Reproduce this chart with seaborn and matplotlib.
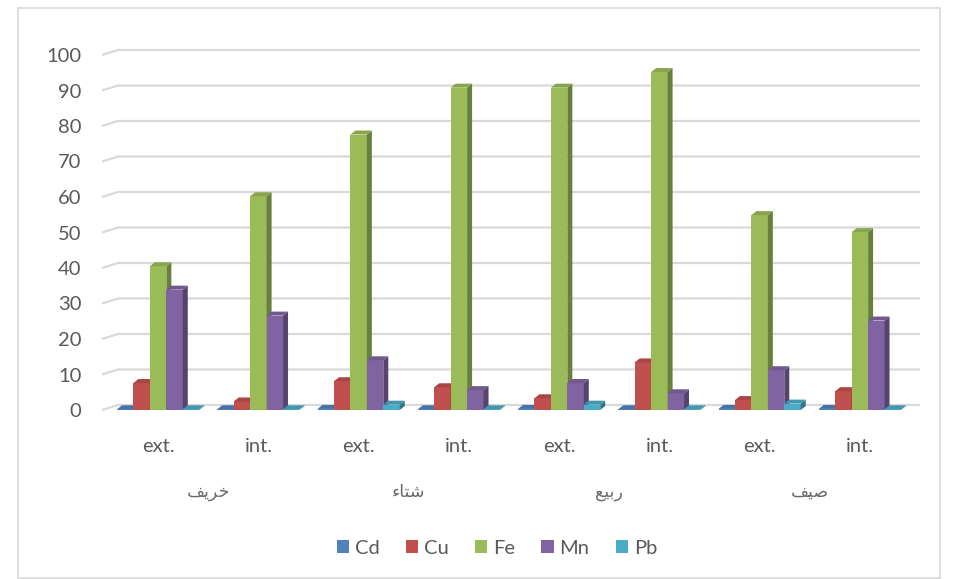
import numpy as np
import pandas as pd
import matplotlib
matplotlib.use("Agg")
import matplotlib.pyplot as plt
from matplotlib.patches import Polygon, Rectangle
from matplotlib.colors import to_rgb
import seaborn as sns

# Seasons (Arabic presentation forms in display order, since matplotlib does no Arabic shaping)
seasons = ["\uFED2\uFEF3\uFEAE\uFEA7",   # خريف
           "\uFE80\uFE8E\uFE98\uFEB7",   # شتاء
           "\uFECA\uFEF4\uFE91\uFEAD",   # ربيع
           "\uFED2\uFEF4\uFEBB"]         # صيف
sites = ["ext.", "int."]
metals = ["Cd", "Cu", "Fe", "Mn", "Pb"]

# Concentrations per sample: autumn ext/int, winter ext/int, spring ext/int, summer ext/int
cd = [0.2, 0.2, 0.3, 0.2, 0.3, 0.2, 0.3, 0.3]
cu = [7.6, 2.4, 8.1, 6.4, 3.3, 13.4, 2.8, 5.3]
fe = [40.5, 60.2, 77.6, 90.8, 90.8, 95.2, 54.9, 50.1]
mn = [33.9, 26.6, 14.0, 5.6, 7.6, 4.7, 11.2, 25.2]
pb = [0.2, 0.2, 1.5, 0.2, 1.5, 0.2, 1.8, 0.2]

palette = ["#4F81BD", "#C0504D", "#9BBB59", "#8064A2", "#4BACC6"]

samples = [f"{s}|{t}" for s in seasons for t in sites]
values = {"Cd": cd, "Cu": cu, "Fe": fe, "Mn": mn, "Pb": pb}
df = pd.DataFrame([
    {"sample": samples[i], "metal": m, "value": values[m][i]}
    for m in metals for i in range(len(samples))
])

sns.set_theme(style="white")
plt.rcParams["font.family"] = ["Lato", "DejaVu Sans"]

fig = plt.figure(figsize=(9.56, 5.79), dpi=100)
ax = fig.add_axes([108 / 956, 169 / 579, 802 / 956, 355 / 579])

sns.barplot(data=df, x="sample", y="value", hue="metal", order=samples,
            hue_order=metals, palette=palette, width=0.82, saturation=1,
            errorbar=None, ax=ax, legend=False)

ax.set_xlim(-0.5, len(samples) - 0.5)
ax.set_ylim(0, 100)
ax.set_yticks(np.arange(0, 101, 10))
ax.set_xlabel("")
ax.set_ylabel("")
for sp in ax.spines.values():
    sp.set_visible(False)
ax.tick_params(axis="both", length=0, labelcolor="#595959", labelsize=14.5)
ax.tick_params(axis="y", pad=19)
ax.tick_params(axis="x", pad=20)
ax.set_xticks(range(len(samples)))
ax.set_xticklabels([s.split("|")[1] for s in samples])
ax.grid(False)

# depth offsets in pixels
gdx, gdy = 10, 5   # back wall
bdx, bdy = 5, 4    # bar depth

to_disp = ax.transData.transform
to_data = ax.transData.inverted().transform

# back-wall gridlines with a short slanted segment on the side wall
x_left, x_right = ax.get_xlim()
for t in ax.get_yticks():
    p0 = to_disp((x_left, t)) - [6, 0]
    p2 = to_disp((x_right, t))
    pts = np.array([p0, p0 + [gdx + 6, gdy], [p2[0] + gdx, p2[1] + gdy]])
    d = to_data(pts)
    ax.plot(d[:, 0], d[:, 1], color="#D9D9D9", lw=1.6, zorder=0.5,
            clip_on=False, solid_capstyle="butt")


def shade(c, f):
    r = np.array(to_rgb(c))
    return tuple(np.clip(r * f, 0, 1))


# give the bars depth: darker right side, lighter top
bars = []
for hi, cont in enumerate(ax.containers):
    for bi, rect in enumerate(cont.patches):
        bars.append((bi, hi, rect, palette[hi]))
bars.sort(key=lambda b: (b[0], b[1]))
for k, (bi, hi, rect, col) in enumerate(bars):
    z = 2 + k * 0.01
    rect.set_zorder(z)
    rect.set_edgecolor("none")
    x0, y0 = rect.get_x(), rect.get_y()
    x1, y1 = x0 + rect.get_width(), y0 + rect.get_height()
    a = to_disp((x0, y0)); b = to_disp((x1, y1))
    side = np.array([[b[0], a[1]], [b[0], b[1]],
                     [b[0] + bdx, b[1] + bdy], [b[0] + bdx, a[1] + bdy]])
    top = np.array([[a[0], b[1]], [b[0], b[1]],
                    [b[0] + bdx, b[1] + bdy], [a[0] + bdx, b[1] + bdy]])
    ax.add_patch(Polygon(to_data(side), closed=True, facecolor=shade(col, 0.68),
                         edgecolor="none", zorder=z, clip_on=False))
    ax.add_patch(Polygon(to_data(top), closed=True, facecolor=shade(col, 0.88),
                         edgecolor="none", zorder=z, clip_on=False))

# season names under each ext./int. pair
for i, s in enumerate(seasons):
    xc = np.mean([2 * i, 2 * i + 1])
    ax.text(xc, -0.23, s, transform=ax.get_xaxis_transform(), ha="center",
            va="center", fontsize=12.5, color="#6a6a6a",
            family=["DejaVu Sans"])

# legend
handles = [Rectangle((0, 0), 1, 1, facecolor=c, edgecolor="none") for c in palette]
fig.legend(handles, metals, loc="center", bbox_to_anchor=(0.52, 1 - 548 / 579),
           ncol=5, frameon=False, fontsize=14.5, handlelength=0.6, handleheight=0.6,
           handletextpad=0.3, columnspacing=1.3, labelcolor="#595959")

# chart border
fig.patches.append(Rectangle((18 / 956, 0.002), 922 / 956, 1 - 8 / 579 - 0.002,
                             transform=fig.transFigure, fill=False,
                             edgecolor="#D9D9D9", lw=1.2))

fig.savefig("out.png", dpi=100)
